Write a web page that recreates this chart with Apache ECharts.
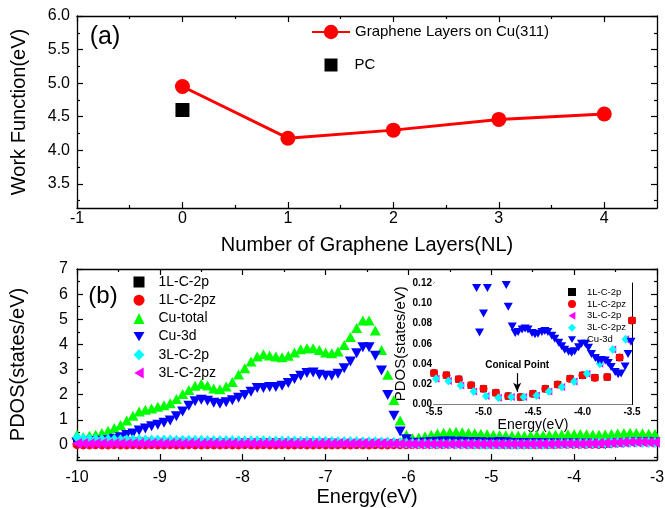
<!DOCTYPE html>
<html><head><meta charset="utf-8">
<script src="https://cdn.jsdelivr.net/npm/echarts@6/dist/echarts.min.js"></script>
<style>html,body{margin:0;padding:0;background:#fff}#c{width:665px;height:508px}</style>
</head><body><div id="c"></div>
<script>
// ---------- Panel (a): work function ----------
const layers = [0, 1, 2, 3, 4];
const workFunction = [4.95, 4.18, 4.30, 4.46, 4.54];
const pcLayers = [0];
const pcWorkFunction = [4.60];
const topXTicks = [-1, 0, 1, 2, 3, 4];
const topXMinor = [-0.5, 0.5, 1.5, 2.5, 3.5];
const topYTicks = [3.5, 4.0, 4.5, 5.0, 5.5, 6.0];
const topYMinor = [3.25, 3.75, 4.25, 4.75, 5.25, 5.75];

// ---------- Panel (b): PDOS ----------
const energy = [-10.000,-9.925,-9.850,-9.775,-9.700,-9.625,-9.550,-9.475,-9.400,-9.325,
 -9.250,-9.175,-9.100,-9.025,-8.950,-8.875,-8.800,-8.725,-8.650,-8.575,
 -8.500,-8.425,-8.350,-8.275,-8.200,-8.125,-8.050,-7.975,-7.900,-7.825,
 -7.750,-7.675,-7.600,-7.525,-7.450,-7.375,-7.300,-7.225,-7.150,-7.075,
 -7.000,-6.925,-6.850,-6.775,-6.700,-6.625,-6.550,-6.475,-6.400,-6.325,
 -6.250,-6.175,-6.100,-6.025,-5.950,-5.875,-5.800,-5.725,-5.650,-5.575,
 -5.500,-5.425,-5.350,-5.275,-5.200,-5.125,-5.050,-4.975,-4.900,-4.825,
 -4.750,-4.675,-4.600,-4.525,-4.450,-4.375,-4.300,-4.225,-4.150,-4.075,
 -4.000,-3.925,-3.850,-3.775,-3.700,-3.625,-3.550,-3.475,-3.400,-3.325,
 -3.250,-3.175,-3.100,-3.025];
const cuTotal = [0.40,0.32,0.36,0.40,0.47,0.56,0.67,0.79,0.97,1.16,
 1.33,1.40,1.45,1.52,1.58,1.66,1.83,2.03,2.19,2.35,
 2.42,2.36,2.25,2.22,2.32,2.50,2.80,3.05,3.32,3.52,
 3.61,3.56,3.52,3.49,3.55,3.68,3.81,3.85,3.85,3.78,
 3.68,3.65,3.72,3.98,4.29,4.65,4.95,4.95,4.55,3.78,
 2.79,1.79,0.97,0.40,0.27,0.30,0.35,0.40,0.45,0.48,
 0.50,0.52,0.50,0.48,0.46,0.44,0.42,0.40,0.39,0.38,
 0.37,0.37,0.36,0.37,0.38,0.38,0.39,0.40,0.41,0.42,
 0.43,0.43,0.42,0.41,0.40,0.41,0.43,0.45,0.47,0.48,
 0.47,0.46,0.44,0.43];
const cu3d = [0.10,0.12,0.14,0.16,0.17,0.19,0.25,0.31,0.39,0.45,
 0.57,0.65,0.74,0.80,0.88,0.97,1.14,1.33,1.56,1.74,
 1.80,1.76,1.68,1.64,1.70,1.78,1.88,1.99,2.12,2.26,
 2.26,2.30,2.30,2.35,2.46,2.62,2.75,2.86,2.88,2.79,
 2.75,2.75,2.83,3.05,3.32,3.65,3.89,3.89,3.55,2.96,
 1.99,1.16,0.53,0.23,0.09,0.08,0.10,0.12,0.13,0.14,
 0.14,0.13,0.13,0.12,0.12,0.11,0.09,0.10,0.12,0.11,
 0.08,0.07,0.07,0.07,0.07,0.07,0.06,0.055,0.05,0.055,
 0.06,0.05,0.044,0.043,0.037,0.03,0.045,0.065,0.08,0.09,
 0.10,0.10,0.10,0.10];
const c1L2p = [0.15,0.14,0.14,0.14,0.13,0.13,0.13,0.13,0.13,0.13,
 0.13,0.13,0.12,0.12,0.12,0.12,0.12,0.12,0.12,0.11,
 0.11,0.11,0.11,0.11,0.11,0.10,0.10,0.10,0.10,0.10,
 0.10,0.10,0.10,0.09,0.09,0.09,0.09,0.09,0.09,0.09,
 0.09,0.09,0.08,0.08,0.08,0.08,0.08,0.08,0.08,0.08,
 0.07,0.07,0.07,0.06,0.05,0.05,0.04,0.04,0.04,0.04,
 0.04,0.04,0.04,0.03,0.03,0.03,0.03,0.03,0.03,0.03,
 0.03,0.03,0.03,0.03,0.03,0.03,0.03,0.03,0.04,0.04,
 0.04,0.04,0.04,0.04,0.05,0.06,0.08,0.10,0.11,0.12,
 0.12,0.12,0.12,0.11];
const c1L2pz = [0.01,0.00,0.00,0.01,0.00,0.00,0.01,0.00,0.00,0.01,
 0.00,0.00,0.01,0.00,0.00,0.01,0.00,0.00,0.01,0.00,
 0.00,0.01,0.00,0.00,0.01,0.00,0.00,0.01,0.00,0.00,
 0.01,0.00,0.00,0.01,0.00,0.00,0.01,0.00,0.00,0.01,
 0.00,0.00,0.01,0.00,0.00,0.01,0.00,0.00,0.01,0.00,
 0.00,0.01,0.01,0.01,0.02,0.02,0.02,0.02,0.02,0.02,
 0.03,0.03,0.03,0.02,0.02,0.02,0.02,0.01,0.01,0.01,
 0.01,0.01,0.01,0.01,0.01,0.02,0.02,0.02,0.03,0.03,
 0.03,0.03,0.03,0.03,0.03,0.05,0.07,0.09,0.11,0.12,
 0.12,0.12,0.12,0.11];
const c3L2p = [0.30,0.26,0.24,0.23,0.22,0.22,0.22,0.21,0.21,0.21,
 0.21,0.20,0.20,0.20,0.20,0.20,0.19,0.19,0.19,0.19,
 0.19,0.18,0.18,0.18,0.18,0.18,0.17,0.17,0.17,0.17,
 0.17,0.16,0.16,0.16,0.16,0.16,0.15,0.15,0.15,0.15,
 0.15,0.14,0.14,0.14,0.14,0.14,0.13,0.13,0.13,0.12,
 0.12,0.11,0.10,0.08,0.07,0.06,0.06,0.05,0.05,0.05,
 0.05,0.04,0.04,0.04,0.03,0.03,0.02,0.02,0.02,0.02,
 0.02,0.02,0.02,0.03,0.03,0.03,0.04,0.04,0.05,0.05,
 0.06,0.06,0.06,0.07,0.08,0.09,0.10,0.11,0.12,0.12,
 0.12,0.11,0.11,0.10];
const c3L2pz = [0.06,0.06,0.05,0.06,0.06,0.05,0.06,0.06,0.05,0.06,
 0.06,0.05,0.06,0.06,0.05,0.06,0.06,0.05,0.06,0.06,
 0.05,0.06,0.06,0.05,0.06,0.06,0.05,0.06,0.06,0.05,
 0.06,0.06,0.05,0.06,0.06,0.05,0.06,0.06,0.05,0.06,
 0.06,0.05,0.06,0.06,0.05,0.06,0.06,0.05,0.06,0.06,
 0.05,0.05,0.05,0.04,0.04,0.04,0.04,0.04,0.04,0.04,
 0.04,0.04,0.04,0.04,0.04,0.04,0.04,0.04,0.04,0.04,
 0.04,0.04,0.04,0.04,0.04,0.04,0.04,0.05,0.05,0.05,
 0.05,0.05,0.06,0.06,0.07,0.08,0.09,0.10,0.11,0.12,
 0.12,0.12,0.11,0.11];
const botXTicks = [-10, -9, -8, -7, -6, -5, -4, -3];
const botXMinor = [-9.5, -8.5, -7.5, -6.5, -5.5, -4.5, -3.5];
const botYTicks = [0, 1, 2, 3, 4, 5, 6, 7];
const botYMinor = [-0.5, 0.5, 1.5, 2.5, 3.5, 4.5, 5.5, 6.5];

// ---------- Inset ----------
const insetE1L = [-5.5,-5.375,-5.25,-5.125,-5.0,-4.875,-4.75,-4.625,-4.5,-4.375,-4.25,-4.125,-4.0,-3.875,-3.75,-3.625,-3.5];
const inset1L2p  = [0.031,0.029,0.025,0.019,0.0155,0.0116,0.0083,0.0073,0.0106,0.0155,0.0198,0.0255,0.0288,0.0265,0.0271,0.0463,0.083];
const inset1L2pz = [0.031,0.029,0.025,0.019,0.0155,0.0116,0.0083,0.0073,0.0106,0.0155,0.0198,0.0255,0.0288,0.0265,0.0271,0.0463,0.083];
const insetE3L = [-5.48,-5.355,-5.23,-5.10,-4.975,-4.85,-4.72,-4.595,-4.465,-4.34,-4.21,-4.085,-3.955,-3.825,-3.695,-3.565];
const inset3L2p  = [0.0255,0.0231,0.0188,0.0129,0.0083,0.0066,0.0073,0.0073,0.0089,0.0129,0.0172,0.0228,0.0304,0.0403,0.0542,0.0645];
const inset3L2pz = [0.0255,0.0231,0.0188,0.0129,0.0083,0.0066,0.0073,0.0073,0.0089,0.0129,0.0172,0.0228,0.0304,0.0403,0.0542,0.0645];
const insetECu = [-5.12,-5.07,-5.04,-5.00,-4.96,-4.92,-4.88,-4.84,-4.80,-4.77,-4.75,-4.71,-4.68,-4.65,-4.61,-4.58,-4.55,-4.51,-4.48,-4.45,
 -4.41,-4.38,-4.35,-4.31,-4.28,-4.24,-4.21,-4.18,-4.14,-4.11,-4.08,-4.04,-4.01,-3.97,-3.94,-3.91,-3.87,-3.84,-3.81,-3.77,
 -3.74,-3.71,-3.67,-3.64,-3.61,-3.57,-3.54,-3.51];
const insetCu3d = [0.16,0.115,0.071,0.090,0.115,0.14,0.15,0.14,0.13,0.118,0.0965,0.077,0.0707,0.0717,0.074,0.075,0.074,0.0707,0.0694,0.070,
 0.0717,0.0727,0.0717,0.068,0.065,0.061,0.0575,0.054,0.052,0.051,0.0525,0.0565,0.060,0.060,0.056,0.050,0.046,0.044,0.044,0.0435,
 0.041,0.037,0.032,0.030,0.0305,0.0375,0.050,0.062];
const insetXTicks = [-5.5, -5.0, -4.5, -4.0, -3.5];
const insetXMinor = [-5.25, -4.75, -4.25, -3.75];
const insetYTicks = [0, 0.02, 0.04, 0.06, 0.08, 0.10, 0.12];
const insetYMinor = [0.01, 0.03, 0.05, 0.07, 0.09, 0.11];
const conicalPoint = -4.66;

// ---------- helpers ----------
const FONT = '"Liberation Sans", Arial, sans-serif';
const zip = (xs, ys) => xs.map((x, i) => [x, ys[i]]);
const DOWN = 'path://M0,0L20,0L10,17Z';
const LEFT = 'path://M0,10L17,0L17,20Z';

function makeAxes(dim, grid, min, max, majors, minors, o) {
  const posMain = dim === 'x' ? 'bottom' : 'left';
  const posMirror = dim === 'x' ? 'top' : 'right';
  const base = { type: 'value', gridIndex: grid, min: min, max: max, splitLine: { show: false }, silent: true };
  const line = { show: true, onZero: false, lineStyle: { color: '#000', width: o.lw } };
  const noLine = { show: false, onZero: false };
  const tick = (vals, len) => ({ show: true, inside: true, length: len, customValues: vals, lineStyle: { color: '#000', width: o.tw } });
  const main = Object.assign({}, base, {
    position: posMain, axisLine: line, axisTick: tick(majors, o.tickLen),
    axisLabel: { show: true, customValues: majors, color: '#000', fontFamily: FONT, fontSize: o.fs, fontWeight: o.fw || 'normal', margin: o.margin, formatter: o.fmt },
    name: o.name, nameLocation: 'middle', nameGap: o.nameGap,
    nameTextStyle: { color: '#000', fontFamily: FONT, fontSize: o.nameSize }
  });
  return [
    main,
    Object.assign({}, base, { position: posMain, axisLine: noLine, axisTick: tick(minors, o.minorLen), axisLabel: { show: false } }),
    Object.assign({}, base, { position: posMirror, axisLine: line, axisTick: tick(majors, o.tickLen), axisLabel: { show: false } }),
    Object.assign({}, base, { position: posMirror, axisLine: noLine, axisTick: tick(minors, o.minorLen), axisLabel: { show: false } })
  ];
}

const xAxes = [].concat(
  makeAxes('x', 0, -1, 4.5, topXTicks, topXMinor, { lw: 1.3, tw: 1.2, tickLen: 6, minorLen: 3, fs: 16, margin: 3, fmt: v => String(v), name: 'Number of Graphene Layers(NL)', nameGap: 27, nameSize: 20 }),
  makeAxes('x', 1, -10, -3, botXTicks, botXMinor, { lw: 1.3, tw: 1.2, tickLen: 6, minorLen: 3, fs: 16, margin: 10, fmt: v => String(v), name: 'Energy(eV)', nameGap: 27, nameSize: 20 }),
  makeAxes('x', 2, -5.5, -3.5, insetXTicks, insetXMinor, { lw: 1, tw: 1, tickLen: 4, minorLen: 2, fs: 10, fw: 'bold', margin: 3, fmt: v => v.toFixed(1), name: 'Energy(eV)', nameGap: 12, nameSize: 14 })
);
const yAxes = [].concat(
  makeAxes('y', 0, 3.14, 6, topYTicks, topYMinor, { lw: 1.3, tw: 1.2, tickLen: 6, minorLen: 3, fs: 16, margin: 7, fmt: v => v.toFixed(1), name: 'Work Function(eV)', nameGap: 48, nameSize: 20 }),
  makeAxes('y', 1, -0.6, 7, botYTicks, botYMinor, { lw: 1.3, tw: 1.2, tickLen: 6, minorLen: 3, fs: 16, margin: 9, fmt: v => String(v), name: 'PDOS(states/eV)', nameGap: 49, nameSize: 20 }),
  makeAxes('y', 2, 0, 0.12, insetYTicks, insetYMinor, { lw: 1, tw: 1, tickLen: 4, minorLen: 2, fs: 10, fw: 'bold', margin: 2, fmt: v => v.toFixed(2), name: 'PDOS(states/eV)', nameGap: 17, nameSize: 15 })
);

function sc(name, axis, data, symbol, size, color, z) {
  return { type: 'scatter', name: name, xAxisIndex: axis, yAxisIndex: axis, data: data, symbol: symbol, symbolSize: size,
    itemStyle: { color: color, opacity: 1 }, z: z || 2, clip: true, silent: true };
}

const series = [
  { type: 'line', name: 'Graphene Layers on Cu(311)', xAxisIndex: 0, yAxisIndex: 0, data: zip(layers, workFunction),
    symbol: 'circle', symbolSize: 15, lineStyle: { color: '#ff0000', width: 3 }, itemStyle: { color: '#ff0000' }, z: 3, silent: true },
  sc('PC', 0, zip(pcLayers, pcWorkFunction), 'rect', 14, '#000'),
  sc('1L-C-2p', 4, zip(energy, c1L2p), 'rect', 8, '#000000'),
  sc('1L-C-2pz', 4, zip(energy, c1L2pz), 'circle', 9, '#ff0000'),
  sc('Cu-total', 4, zip(energy, cuTotal), 'triangle', [11, 10], '#00ff00'),
  sc('Cu-3d', 4, zip(energy, cu3d), DOWN, [11, 10], '#0000ff'),
  sc('3L-C-2p', 4, zip(energy, c3L2p), 'diamond', [9, 11], '#00ffff'),
  sc('3L-C-2pz', 4, zip(energy, c3L2pz), LEFT, [10, 11], '#ff00ff'),
  sc('i:1L-C-2p', 8, zip(insetE1L, inset1L2p), 'rect', 7, '#000000', 5),
  Object.assign(sc('i:1L-C-2pz', 8, zip(insetE1L, inset1L2pz), 'circle', 8, '#ff0000', 5), {
    markLine: { silent: true, animation: false, symbol: ['none', 'arrow'], symbolSize: [6, 9],
      lineStyle: { color: '#000', width: 1.2, type: 'solid' },
      label: { show: true, position: 'start', formatter: 'Conical Point', color: '#000', fontFamily: FONT, fontSize: 10, fontWeight: 'bold', distance: 3 },
      emphasis: { disabled: true },
      data: [[{ coord: [conicalPoint, 0.031] }, { coord: [conicalPoint, 0.0125] }]] }
  }),
  sc('i:3L-C-2p', 8, zip(insetE3L, inset3L2p), LEFT, [7, 8], '#ff00ff', 5),
  sc('i:3L-C-2pz', 8, zip(insetE3L, inset3L2pz), 'diamond', [8, 9], '#00ffff', 5),
  sc('i:Cu-3d', 8, zip(insetECu, insetCu3d), DOWN, [9, 8], '#0000ff', 5)
];

const legTxt = (fs, pad) => ({ color: '#000', fontFamily: FONT, fontSize: fs, padding: [0, 0, 0, pad] });

const option = {
  animation: false,
  backgroundColor: '#fff',
  grid: [
    { left: 77, top: 16, width: 580, height: 192, containLabel: false, outerBoundsMode: 'none' },
    { left: 77, top: 269, width: 580, height: 191, containLabel: false, outerBoundsMode: 'none' },
    { left: 434, top: 283, width: 198, height: 121.5, containLabel: false, outerBoundsMode: 'none', show: true, backgroundColor: '#fff', borderWidth: 0, z: 4 }
  ],
  xAxis: xAxes,
  yAxis: yAxes,
  legend: [
    { data: ['Graphene Layers on Cu(311)'], left: 311, top: 24.5, padding: 0, itemWidth: 38, itemHeight: 18, selectedMode: false, textStyle: legTxt(15, 0) },
    { data: ['PC'], left: 324.5, top: 57.5, padding: 0, itemWidth: 13, itemHeight: 13, selectedMode: false, textStyle: legTxt(15, 12) },
    { data: ['1L-C-2p', '1L-C-2pz', 'Cu-total', 'Cu-3d', '3L-C-2p', '3L-C-2pz'], orient: 'vertical', left: 133.5, top: 275, padding: 0,
      itemWidth: 11, itemHeight: 11, itemGap: 4.2, selectedMode: false, textStyle: legTxt(14, 9) },
    { data: ['i:1L-C-2p', 'i:1L-C-2pz', 'i:3L-C-2p', 'i:3L-C-2pz', 'i:Cu-3d'], orient: 'vertical', left: 568, top: 287, padding: 0,
      itemWidth: 8, itemHeight: 8, itemGap: 1.9, selectedMode: false, formatter: n => n.slice(2), textStyle: legTxt(9.5, 6), z: 6 }
  ],
  graphic: [
    { type: 'text', x: 105, y: 37, silent: true, style: { text: '(a)', fill: '#000', font: '25px "Liberation Sans", Arial, sans-serif', align: 'center', verticalAlign: 'middle' } },
    { type: 'text', x: 103, y: 296, silent: true, style: { text: '(b)', fill: '#000', font: '24px "Liberation Sans", Arial, sans-serif', align: 'center', verticalAlign: 'middle' } }
  ],
  series: series
};

const chart = echarts.init(document.getElementById('c'), null, { renderer: 'canvas' });
chart.setOption(option);
</script>
</body></html>
